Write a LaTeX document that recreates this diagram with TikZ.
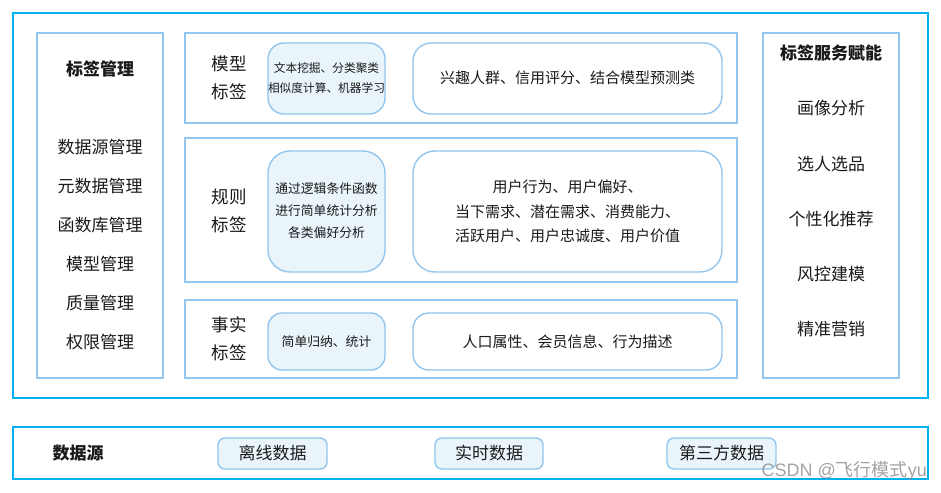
\documentclass[tikz,border=0pt]{standalone}
\usepackage{fontspec}
\setmainfont{Noto Sans CJK SC}
\newfontfamily\wmfont{Liberation Sans}
\definecolor{outerc}{HTML}{00B0F0}
\definecolor{innerc}{HTML}{92C6EE}
\definecolor{fillc}{HTML}{EAF5FB}
\definecolor{txt}{HTML}{1A1A1A}
\begin{document}
\begin{tikzpicture}[x=1pt,y=-1pt,
  outerbox/.style={draw=outerc,line width=2.2pt},
  panel/.style={draw=innerc,line width=1.4pt},
  softbox/.style={draw=innerc,line width=1.4pt,fill=fillc,rounded corners=16pt},
  plainbox/.style={draw=innerc,line width=1.4pt,rounded corners=18pt},
  chip/.style={draw=innerc,line width=1.4pt,fill=fillc,rounded corners=7pt},
  lbl/.style={text=txt,font=\fontsize{17}{20}\selectfont,inner sep=0pt},
  head/.style={text=txt,font=\fontsize{17}{20}\selectfont\bfseries,inner sep=0pt},
  rowlbl/.style={text=txt,font=\fontsize{17.5}{28}\selectfont,align=center,inner sep=0pt},
  small/.style={text=txt,font=\fontsize{11.7}{20}\selectfont,align=center,inner sep=0pt},
  mid/.style={text=txt,font=\fontsize{12.8}{22}\selectfont,align=center,inner sep=0pt},
  big/.style={text=txt,font=\fontsize{15}{24.5}\selectfont,align=center,inner sep=0pt}]
\useasboundingbox (0,0) rectangle (941,492);
\fill[white] (0,0) rectangle (941,492);
% outer boxes
\draw[outerbox] (13,13) rectangle (928,398);
\draw[outerbox] (13,427) rectangle (928,479);
% left panel
\draw[panel] (37,33) rectangle (163,378);
\node[head] (lm) at (100,69) {标签管理};
\node[lbl] (l1) at (100,147) {数据源管理};
\node[lbl] (l2) at (100,186) {元数据管理};
\node[lbl] (l3) at (100,225) {函数库管理};
\node[lbl] (l4) at (100,264) {模型管理};
\node[lbl] (l5) at (100,303) {质量管理};
\node[lbl] (l6) at (100,342) {权限管理};
% right panel
\draw[panel] (763,33) rectangle (899,378);
\node[head] (rs) at (831,53) {标签服务赋能};
\node[lbl] (r1) at (831,108) {画像分析};
\node[lbl] (r2) at (831,164) {选人选品};
\node[lbl] (r3) at (831,219) {个性化推荐};
\node[lbl] (r4) at (831,274) {风控建模};
\node[lbl] (r5) at (831,329) {精准营销};
% rows
\draw[panel] (185,33) rectangle (737,123);
\draw[panel] (185,138) rectangle (737,282);
\draw[panel] (185,300) rectangle (737,378);
% row 1
\node[rowlbl] (m1) at (229,78) {模型\\标签};
\draw[softbox] (268,43) rectangle (385,114);
\node[small] (m2) at (326.5,78) {文本挖掘、分类聚类\\相似度计算、机器学习};
\draw[plainbox] (413,43) rectangle (722,114);
\node[big] (m3) at (567.5,78) {兴趣人群、信用评分、结合模型预测类};
% row 2
\node[rowlbl] (g1) at (229,211) {规则\\标签};
\draw[softbox,rounded corners=22pt] (268,151) rectangle (385,272);
\node[mid] (g2) at (326.5,210.5) {通过逻辑条件函数\\进行简单统计分析\\各类偏好分析};
\draw[plainbox,rounded corners=22pt] (413,151) rectangle (722,272);
\node[big] (g3) at (567.5,211.5) {用户行为、用户偏好、\\当下需求、潜在需求、消费能力、\\活跃用户、用户忠诚度、用户价值};
% row 3
\node[rowlbl] (f1) at (229,339) {事实\\标签};
\draw[softbox,rounded corners=14pt] (268,313) rectangle (385,370);
\node[mid] (f2) at (326.5,341.5) {简单归纳、统计};
\draw[plainbox,rounded corners=16pt] (413,313) rectangle (722,370);
\node[big] (f3) at (567.5,341.5) {人口属性、会员信息、行为描述};
% data sources
\node[head] (ds) at (78,453) {数据源};
\node[chip,lbl,minimum width=109pt,minimum height=31pt] (d1) at (272.5,453.5) {离线数据};
\node[chip,lbl,minimum width=108pt,minimum height=31pt] (d2) at (489,453.5) {实时数据};
\node[chip,lbl,minimum width=109pt,minimum height=31pt] (d3) at (721.5,453.5) {第三方数据};
% watermark
\node[text=black!45,opacity=0.8,inner sep=0pt,anchor=east] (wm) at (927,471) {\wmfont\fontsize{18}{20}\selectfont CSDN @\fontspec{Noto Sans CJK SC}\fontsize{18}{20}\selectfont 飞行模式\wmfont yu};
\end{tikzpicture}
\end{document}
